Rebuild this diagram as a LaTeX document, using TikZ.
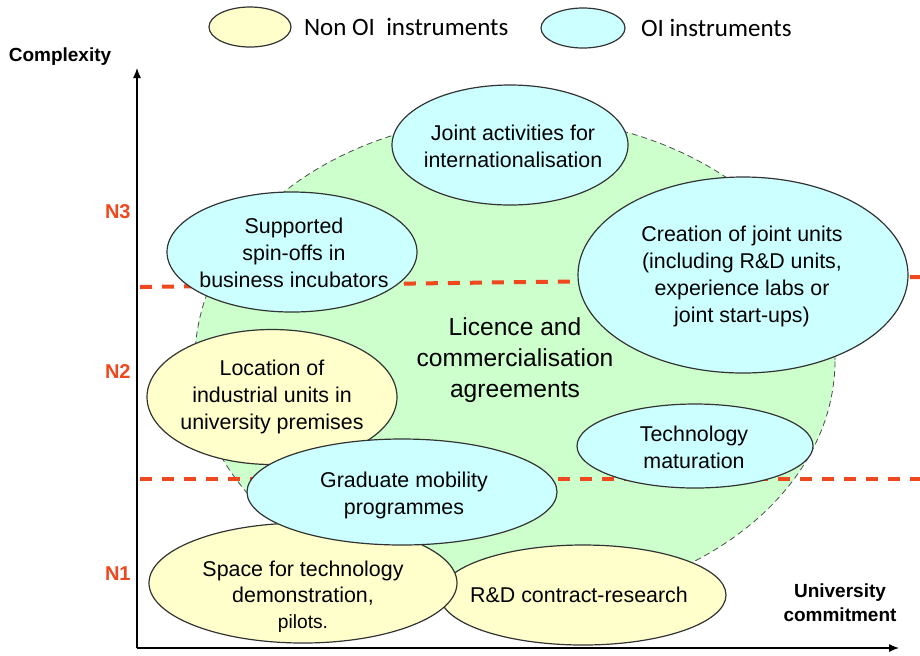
\documentclass[tikz,border=0pt]{standalone}
\usepackage{fontspec}
\setmainfont{Liberation Sans}
\newfontfamily\keyfont{Carlito}
\usetikzlibrary{shapes.geometric, positioning, arrows.meta}

\definecolor{oicyan}{RGB}{204,255,255}
\definecolor{nonoiyellow}{RGB}{255,255,204}
\definecolor{licgreen}{RGB}{204,255,204}
\definecolor{levelred}{RGB}{240,72,30}

\begin{document}
\begin{tikzpicture}
[
    x=0.5pt, y=-0.5pt,
    instr/.style={ellipse, draw=black!80, line width=0.6pt, inner sep=0pt},
    oi/.style={instr, fill=oicyan},
    nonoi/.style={instr, fill=nonoiyellow},
    txt/.style={align=center, inner sep=0pt, font=\fontsize{10.7}{13.5}\selectfont},
    key/.style={inner sep=0pt, font=\keyfont\fontsize{12.5}{14}\selectfont},
    level/.style={anchor=east, inner sep=0pt, text=levelred, font=\bfseries\fontsize{10}{12}\selectfont},
    cut/.style={levelred, line width=2pt, dash pattern=on 6pt off 5pt},
    axislabel/.style={align=center, inner sep=0pt, font=\bfseries\fontsize{9.5}{12}\selectfont},
]
    \useasboundingbox (0,0) rectangle (920,655);

    % legend
    \node[nonoi, minimum width=41pt, minimum height=20pt] (keynon) at (250,27) {};
    \node[key, right=6pt of keynon] (keynontxt) {Non OI\ \ instruments};
    \node[oi, minimum width=42pt, minimum height=20pt] (keyoi) at (583,28) {};
    \node[key, right=7.5pt of keyoi] (keyoitxt) {OI instruments};

    % axes
    \coordinate (origin) at (137,648);
    \coordinate (ytop) at (137,68);
    \coordinate (xend) at (899,648);
    \draw[-{Latex[length=5pt,width=4pt]}, line width=0.6pt] (origin) -- (ytop);
    \draw[-{Latex[length=5pt,width=4pt]}, line width=0.6pt] (origin) -- (xend);
    \node[axislabel] (ylab) at (60,57) {Complexity};
    \node[axislabel] (xlab) at (840,603) {University\\commitment};

    \node[level] (n3) at (131,212) {N3};
    \node[level] (n2) at (131,372) {N2};
    \node[level] (n1) at (131,574) {N1};

    % licence area behind everything
    \node[ellipse, draw=black!70, densely dashed, line width=0.4pt, fill=licgreen,
          minimum width=320pt, minimum height=243pt, inner sep=0pt, align=center,
          font=\fontsize{12.3}{15.5}\selectfont] (licence) at (515,360)
          {Licence and\\commercialisation\\agreements};

    % level boundaries
    \coordinate (n3l) at (140,287);
    \coordinate (n3r) at (920,277);
    \coordinate (n2l) at (140,479);
    \coordinate (n2r) at (920,479);
    \draw[cut] (n3l) -- (n3r);
    \draw[cut] (n2l) -- (n2r);

    % instruments
    \node[nonoi, minimum width=143pt, minimum height=50pt] (contract) at (583,595) {};
    \node[txt] (contracttxt) at (579,595) {R\&D contract-research};

    \node[nonoi, minimum width=154pt, minimum height=60pt] (space) at (303,583) {};
    \node[txt, font=\fontsize{10.7}{13}\selectfont] (spacetxt) at (303,597)
        {Space for technology\\demonstration,\\{\fontsize{9.6}{12}\selectfont pilots.}};

    \node[nonoi, minimum width=125pt, minimum height=67.5pt] (premises) at (272,397) {};
    \node[txt] (premisestxt) at (272,397) {Location of\\industrial units in\\university premises};

    \node[oi, minimum width=155pt, minimum height=53pt] (mobility) at (402,492) {};
    \node[txt] (mobilitytxt) at (404,495) {Graduate mobility\\programmes};

    \node[oi, minimum width=118pt, minimum height=42pt] (maturation) at (695,446) {};
    \node[txt] (maturationtxt) at (694,447) {Technology\\maturation};

    \node[oi, minimum width=125pt, minimum height=60pt] (spinoff) at (292,252) {};
    \node[txt] (spinofftxt) at (294,253) {Supported\\spin-offs in\\business incubators};

    \node[oi, minimum width=118pt, minimum height=60pt] (joint) at (510,145) {};
    \node[txt] (jointtxt) at (513,146) {Joint activities for\\internationalisation};

    \node[oi, minimum width=165pt, minimum height=98pt] (jointunits) at (743,275) {};
    \node[txt] (jointunitstxt) at (742,276)
        {Creation of joint units\\(including R\&D units,\\experience labs or\\joint start-ups)};
\end{tikzpicture}
\end{document}
